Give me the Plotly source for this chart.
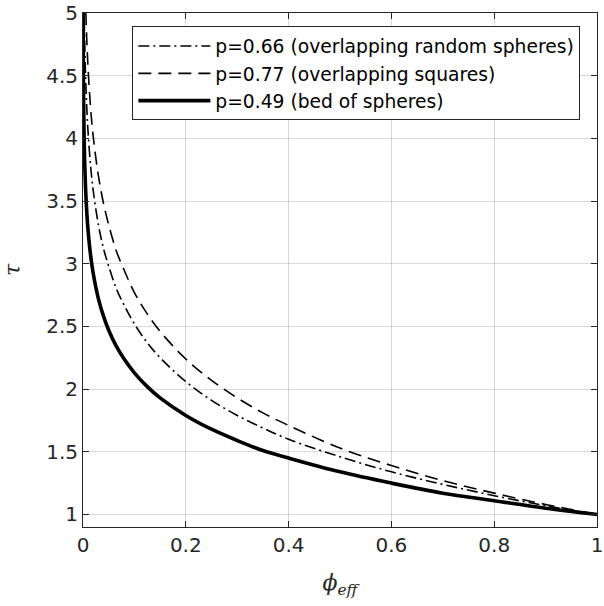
import plotly.graph_objects as go

phi = [0.0002, 0.0003, 0.0005, 0.001, 0.002, 0.003, 0.005, 0.0075, 0.01, 0.015,
       0.02, 0.03, 0.04, 0.05, 0.065, 0.08, 0.1, 0.125, 0.15, 0.2,
       0.25, 0.3, 0.35, 0.4, 0.5, 0.6, 0.7, 0.8, 0.9, 1.0]

tau_066 = [6.62, 6.35, 6.02, 5.56, 5.10, 4.83, 4.50, 4.23, 4.04, 3.77,
           3.58, 3.31, 3.12, 2.98, 2.80, 2.67, 2.52, 2.37, 2.25, 2.06,
           1.91, 1.79, 1.69, 1.60, 1.46, 1.34, 1.24, 1.15, 1.07, 1.00]

tau_077 = [7.56, 7.25, 6.85, 6.32, 5.79, 5.47, 5.08, 4.77, 4.55, 4.23,
           4.01, 3.70, 3.48, 3.31, 3.10, 2.95, 2.77, 2.60, 2.46, 2.24,
           2.07, 1.93, 1.81, 1.71, 1.53, 1.39, 1.27, 1.17, 1.08, 1.00]

tau_049 = [5.17, 4.97, 4.72, 4.38, 4.05, 3.85, 3.60, 3.40, 3.26, 3.06,
           2.92, 2.72, 2.58, 2.47, 2.34, 2.24, 2.13, 2.02, 1.93, 1.79,
           1.68, 1.59, 1.51, 1.45, 1.34, 1.25, 1.17, 1.11, 1.05, 1.00]

names = ["p=0.66 (overlapping random spheres)",
         "p=0.77 (overlapping squares)",
         "p=0.49 (bed of spheres)"]

x_ticks = [0, 0.2, 0.4, 0.6, 0.8, 1]
x_ticklabels = ["0", "0.2", "0.4", "0.6", "0.8", "1"]
y_ticks = [1, 1.5, 2, 2.5, 3, 3.5, 4, 4.5, 5]
y_ticklabels = ["1", "1.5", "2", "2.5", "3", "3.5", "4", "4.5", "5"]

fig = go.Figure()
fig.add_trace(go.Scatter(x=phi, y=tau_066, mode="lines", name=names[0],
                         line=dict(color="black", width=1.6, dash="11px,4px,2px,4px", shape="spline")))
fig.add_trace(go.Scatter(x=phi, y=tau_077, mode="lines", name=names[1],
                         line=dict(color="black", width=1.6, dash="13px,7px", shape="spline")))
fig.add_trace(go.Scatter(x=phi, y=tau_049, mode="lines", name=names[2],
                         line=dict(color="black", width=3.6, shape="spline")))

axis_common = dict(
    showline=True, linecolor="#262626", linewidth=1, mirror="ticks",
    ticks="inside", ticklen=6, tickcolor="#262626",
    showgrid=True, gridcolor="rgba(0,0,0,0.15)", gridwidth=1,
    zeroline=False, ticklabeloverflow="allow",
    tickfont=dict(family="DejaVu Sans", size=20, color="#262626"),
)

fig.update_layout(
    width=604, height=606,
    margin=dict(l=83, r=1, t=8, b=79),
    paper_bgcolor="white", plot_bgcolor="white",
    showlegend=True,
    legend=dict(x=0.096, y=0.974, xanchor="left", yanchor="top",
                bgcolor="white", bordercolor="#262626", borderwidth=1,
                font=dict(family="DejaVu Sans", size=18.7, color="black"),
                tracegroupgap=0, itemwidth=72),
    xaxis=dict(range=[0, 1], tickvals=x_ticks, ticktext=x_ticklabels,
               title=dict(text="<i>ϕ</i><sub><i>eff</i></sub>",
                          font=dict(family="DejaVu Serif, serif", size=22, color="#262626"),
                          standoff=18),
               **axis_common),
    yaxis=dict(range=[0.9, 5], tickvals=y_ticks, ticktext=y_ticklabels,
               title=dict(text="<i>τ</i>",
                          font=dict(family="DejaVu Serif, serif", size=22, color="#262626"),
                          standoff=20),
               **axis_common),
)

fig.write_html("out.html")
